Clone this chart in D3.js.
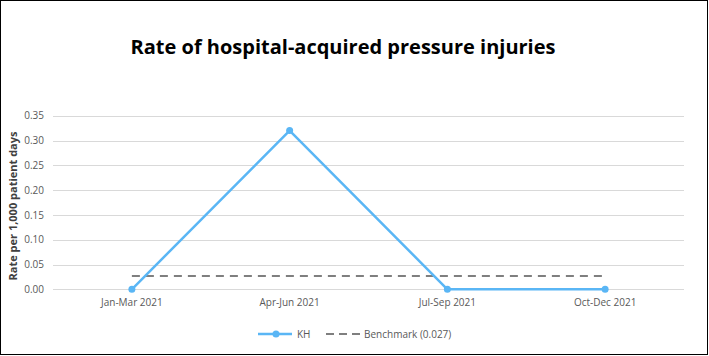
<!DOCTYPE html>
<html><head><meta charset="utf-8">
<script src="https://cdn.jsdelivr.net/npm/d3@7/dist/d3.min.js"></script>
<style>body{margin:0;background:#fff}</style>
</head><body>
<svg id="c" width="709" height="356"></svg>
<script>
const categories = ["Jan-Mar 2021","Apr-Jun 2021","Jul-Sep 2021","Oct-Dec 2021"];
const khValues = [0, 0.32, 0, 0];
const benchmarkValue = 0.027;
const yTicks = [0,0.05,0.10,0.15,0.20,0.25,0.30,0.35];
const title = "Rate of hospital-acquired pressure injuries";
const yTitle = "Rate per 1,000 patient days";
const legendLabels = ["KH","Benchmark (0.027)"];

const svg = d3.select("#c");
const blue = "#5ab6f5", dashCol = "#7f7f7f", tickCol = "#595959";
svg.append("rect").attr("x",0.5).attr("y",0.5).attr("width",707).attr("height",354)
  .attr("fill","#fff").attr("stroke","#000");

const x = d3.scaleBand().domain(categories).range([53,684]);
const y = d3.scaleLinear().domain([0,0.35]).range([289.3,115.7]);
const cx = d => x(d)+x.bandwidth()/2;

svg.append("text").attr("x",343).attr("y",54).attr("text-anchor","middle")
  .style("font-family","'Open Sans',sans-serif").style("font-weight","bold").style("font-size","20px")
  .attr("fill","#000").text(title);

// gridlines
svg.append("g").selectAll("line").data(yTicks).join("line")
  .attr("x1",53).attr("x2",684).attr("y1",d=>Math.round(y(d))+0.5).attr("y2",d=>Math.round(y(d))+0.5)
  .attr("stroke","#d9d9d9").attr("stroke-width",1);

const yAxis = d3.axisLeft(y).tickValues(yTicks).tickFormat(d3.format(".2f")).tickSize(0).tickPadding(0);
const gy = svg.append("g").attr("transform","translate(44,0)").call(yAxis);
gy.select(".domain").remove();
gy.selectAll("text").attr("fill",tickCol).style("font-family","'Open Sans',sans-serif").style("font-size","10px");

const xAxis = d3.axisBottom(x).tickSize(0).tickPadding(10);
const gx = svg.append("g").attr("transform","translate(0,289.3)").call(xAxis);
gx.select(".domain").remove();
gx.selectAll("text").attr("fill",tickCol).style("font-family","'Open Sans',sans-serif").style("font-size","10px");

svg.append("text").attr("transform","translate(17,206) rotate(-90)").attr("text-anchor","middle")
  .style("font-family","'Open Sans',sans-serif").style("font-weight","bold").style("font-size","11px")
  .attr("fill","#404040").text(yTitle);

// benchmark
svg.append("line").attr("x1",cx(categories[0])).attr("x2",cx(categories[categories.length-1]))
  .attr("y1",y(benchmarkValue)).attr("y2",y(benchmarkValue))
  .attr("stroke",dashCol).attr("stroke-width",2).attr("stroke-dasharray","8,6");

// KH line
const line = d3.line().x((d,i)=>cx(categories[i])).y(d=>y(d));
svg.append("path").datum(khValues).attr("d",line).attr("fill","none")
  .attr("stroke",blue).attr("stroke-width",2.5).attr("stroke-linejoin","round");
svg.append("g").selectAll("circle").data(khValues).join("circle")
  .attr("cx",(d,i)=>cx(categories[i])).attr("cy",d=>y(d)).attr("r",3.5).attr("fill",blue);

// legend
const ly = 334;
svg.append("line").attr("x1",258).attr("x2",292).attr("y1",ly).attr("y2",ly).attr("stroke",blue).attr("stroke-width",2.5);
svg.append("circle").attr("cx",276).attr("cy",ly).attr("r",3.5).attr("fill",blue);
svg.append("text").attr("x",297).attr("y",ly+4).text(legendLabels[0]).attr("fill",tickCol)
  .style("font-family","'Open Sans',sans-serif").style("font-size","10px");
svg.append("line").attr("x1",326).attr("x2",360).attr("y1",ly).attr("y2",ly).attr("stroke",dashCol)
  .attr("stroke-width",2).attr("stroke-dasharray","8,5");
svg.append("text").attr("x",364).attr("y",ly+4).text(legendLabels[1]).attr("fill",tickCol)
  .style("font-family","'Open Sans',sans-serif").style("font-size","10px");
</script>
</body></html>
